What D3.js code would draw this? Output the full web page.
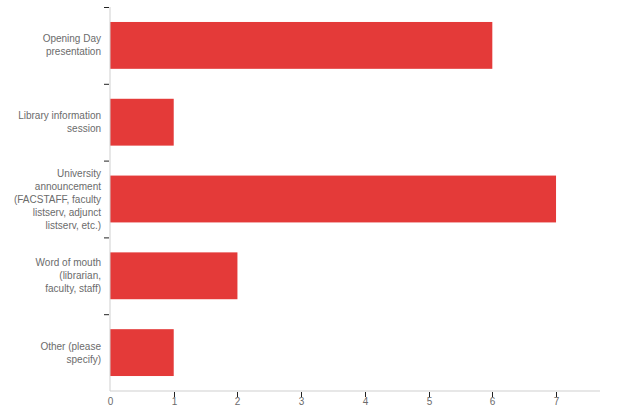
<!DOCTYPE html>
<meta charset="utf-8">
<script src="https://d3js.org/d3.v7.min.js"></script>
<style>
  body { margin: 0; background: #fff; }
  text { font-family: "Liberation Sans", Arial, sans-serif; }
</style>
<div id="my_dataviz"></div>
<script>

// data
var categories = [
  ["Opening Day", "presentation"],
  ["Library information", "session"],
  ["University", "announcement", "(FACSTAFF, faculty", "listserv, adjunct", "listserv, etc.)"],
  ["Word of mouth", "(librarian,", "faculty, staff)"],
  ["Other (please", "specify)"]
];
var counts = [6, 1, 7, 2, 1];
var xTicks = [0, 1, 2, 3, 4, 5, 6, 7];

var width = 630, height = 420;
var margin = {top: 7, right: 30, bottom: 29, left: 110};

var svg = d3.select("#my_dataviz")
  .append("svg")
    .attr("width", width)
    .attr("height", height);

var keys = categories.map(function(d, i) { return i; });

// one slot per category, bars sit in the middle
var slot = d3.scaleBand()
  .domain(keys)
  .range([margin.top, height - margin.bottom])
  .padding(0);

var y = d3.scaleBand()
  .domain(keys)
  .range([margin.top, height - margin.bottom])
  .paddingInner(0.39)
  .paddingOuter(0.195);

var x = d3.scaleLinear()
  .domain([0, 7.69])
  .range([margin.left, width - margin.right]);

var axisY = height - margin.bottom;

// bars
svg.append("g")
  .selectAll("rect")
  .data(counts)
  .enter()
  .append("rect")
    .attr("x", x(0))
    .attr("y", function(d, i) { return y(i); })
    .attr("width", function(d) { return x(d) - x(0); })
    .attr("height", y.bandwidth())
    .attr("fill", "#e43a39");

// axis lines
svg.append("line")
  .attr("x1", x(0)).attr("x2", x(0))
  .attr("y1", margin.top).attr("y2", axisY)
  .attr("stroke", "#cfcfcf");
svg.append("line")
  .attr("x1", x(0)).attr("x2", x.range()[1])
  .attr("y1", axisY).attr("y2", axisY)
  .attr("stroke", "#cfcfcf");

// y ticks at top of each slot
svg.append("g")
  .selectAll("line")
  .data(keys)
  .enter()
  .append("line")
    .attr("x1", x(0) - 6).attr("x2", x(0) - 1)
    .attr("y1", function(d) { return slot(d) + 0.5; })
    .attr("y2", function(d) { return slot(d) + 0.5; })
    .attr("stroke", "#222");

// category labels
var labels = svg.append("g")
  .selectAll("text")
  .data(categories)
  .enter()
  .append("text")
    .attr("text-anchor", "end")
    .attr("fill", "#6b6b6b")
    .style("font-size", "10px")
    .attr("transform", function(d, i) {
      var cy = y(i) + y.bandwidth() / 2 - (d.length - 1) * 13 / 2;
      return "translate(" + (x(0) - 9) + "," + cy + ")";
    });

labels.selectAll("tspan")
  .data(function(d) { return d; })
  .enter()
  .append("tspan")
    .attr("x", 0)
    .attr("y", function(d, i) { return i * 13; })
    .attr("dy", "0.35em")
    .text(function(d) { return d; });

// x ticks
var xt = svg.append("g")
  .selectAll("g")
  .data(xTicks)
  .enter()
  .append("g")
    .attr("transform", function(d) { return "translate(" + (Math.round(x(d)) + 0.5) + ",0)"; });

xt.filter(function(d) { return d > 0; })
  .append("line")
    .attr("y1", axisY + 1).attr("y2", axisY + 6)
    .attr("stroke", "#222");

xt.append("text")
  .attr("y", axisY + 14)
  .attr("text-anchor", "middle")
  .attr("fill", "#6b6b6b")
  .style("font-size", "10px")
  .text(function(d) { return d; });

</script>
